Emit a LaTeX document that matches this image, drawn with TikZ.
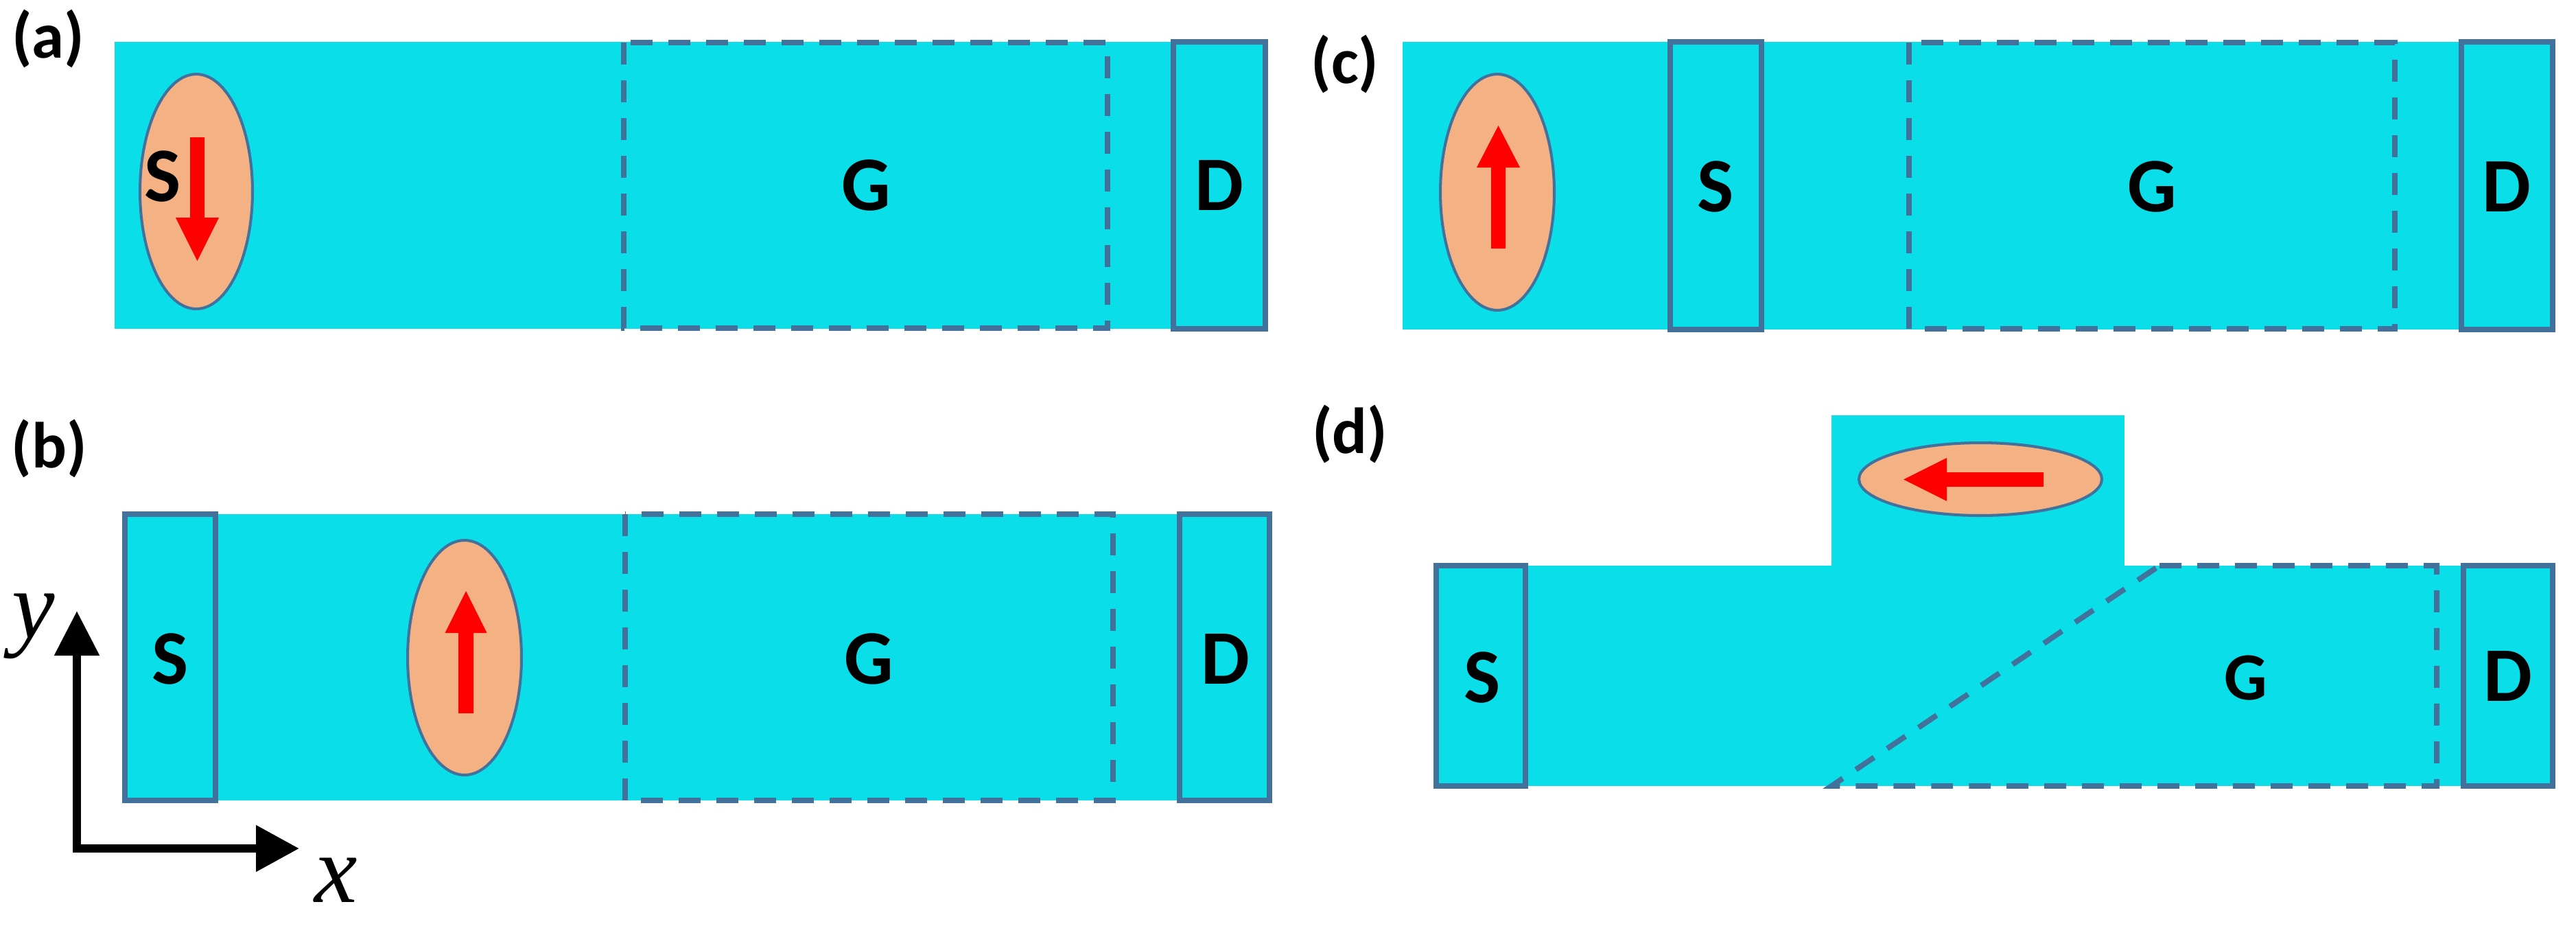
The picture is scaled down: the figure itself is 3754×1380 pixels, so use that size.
\documentclass[tikz,border=0pt]{standalone}
\usepackage{fontspec}
\setmainfont{Carlito}
\newfontfamily\serifit{Liberation Serif}
\usetikzlibrary{arrows.meta}
\definecolor{chan}{HTML}{0ADFE9}
\definecolor{edgeblue}{HTML}{42719B}
\definecolor{dotfill}{HTML}{F4B183}
\begin{document}
\begin{tikzpicture}[x=0.02cm,y=-0.02cm,
  channel/.style={fill=chan},
  contact/.style={draw=edgeblue, line width=4.5pt},
  gatebox/.style={draw=edgeblue, line width=4.5pt, dash pattern=on 18.2pt off 13.1pt},
  magnet/.style={fill=dotfill, draw=edgeblue, line width=2.3pt},
  spin/.style={fill=red},
  lbl/.style={font=\fontsize{64}{70}\selectfont\bfseries, inner sep=0pt},
  smalllbl/.style={font=\fontsize{56}{60}\selectfont\bfseries, inner sep=0pt},
  panel/.style={font=\fontsize{54}{60}\selectfont\bfseries, inner sep=0pt},
  axlbl/.style={font=\serifit\itshape\fontsize{80}{82}\selectfont, inner sep=0pt},
  axis/.style={line width=6.8pt, line join=miter}]
\useasboundingbox (0,0) rectangle (3754,1380);

% ---------- panel (a) ----------
\fill[channel] (167,61) rectangle (1848,479);
\draw[gatebox] (909,62) rectangle (1614,478);
\draw[contact] (1710,61) rectangle (1844,479);
\draw[magnet] (286,279) ellipse [x radius=1.64cm, y radius=3.42cm];
\fill[spin] (277,200) -- (298,200) -- (298,317) -- (319,317) -- (287.5,380) -- (256,317) -- (277,317) -- cycle;
\node[lbl] (aS) at (237,257) {S};
\node[lbl] (aG) at (1262,270) {G};
\node[lbl] (aD) at (1777,270) {D};
\node[panel] (pa) at (70,56) {(a)};

% ---------- panel (c) ----------
\fill[channel] (2044,61) rectangle (3724,480);
\draw[gatebox] (2782,62) rectangle (3490,479);
\draw[contact] (2434,61) rectangle (2567,480);
\draw[contact] (3587,61) rectangle (3720,480);
\draw[magnet] (2182,280) ellipse [x radius=1.66cm, y radius=3.44cm];
\fill[spin] (2173,362) -- (2194,362) -- (2194,244) -- (2215,244) -- (2183.5,183) -- (2152,244) -- (2173,244) -- cycle;
\node[lbl] (cS) at (2500,272) {S};
\node[lbl] (cG) at (3136,272) {G};
\node[lbl] (cD) at (3653,272) {D};
\node[panel] (pc) at (1960,93) {(c)};

% ---------- panel (b) ----------
\fill[channel] (178,749) rectangle (1854,1166);
\draw[gatebox] (911,749) rectangle (1622,1166);
\draw[contact] (182,749) rectangle (314,1166);
\draw[contact] (1719,749) rectangle (1850,1166);
\draw[magnet] (677,958) ellipse [x radius=1.66cm, y radius=3.42cm];
\fill[spin] (668,1039) -- (690,1039) -- (690,922) -- (709.5,922) -- (679,861) -- (648.5,922) -- (668,922) -- cycle;
\node[lbl] (bS) at (248,960) {S};
\node[lbl] (bG) at (1266,960) {G};
\node[lbl] (bD) at (1786,960) {D};
\node[panel] (pb) at (72,653) {(b)};

% axes
\coordinate (ytip) at (112,890);
\coordinate (orig) at (112,1236);
\coordinate (xtip) at (436,1236);
\draw[axis, {Triangle[length=1.3cm,width=1.26cm]}-{Triangle[length=1.26cm,width=1.3cm]}] (ytip) -- (orig) -- (xtip);
\node[axlbl] (ylab) at (49,912) {y};
\node[axlbl] (xlab) at (490,1282) {x};

% ---------- panel (d) ----------
\fill[channel] (2669,605) rectangle (3096,830);
\fill[channel] (2089,824) rectangle (3724,1145);
\draw[gatebox] (3147,824) -- (3551,824) -- (3551,1145) -- (2669,1145) -- cycle;
\draw[contact] (2093,824) rectangle (2223,1145);
\draw[contact] (3590,824) rectangle (3720,1145);
\draw[magnet] (2886,698) ellipse [x radius=3.54cm, y radius=1.06cm];
\fill[spin] (2978,688) -- (2978,709) -- (2837,709) -- (2837,730) -- (2774,698.5) -- (2837,667) -- (2837,688) -- cycle;
\node[lbl] (dS) at (2160,987) {S};
\node[smalllbl] (dG) at (3273,988) {G};
\node[lbl] (dD) at (3655,985) {D};
\node[panel] (pd) at (1967,632) {(d)};
\end{tikzpicture}
\end{document}
